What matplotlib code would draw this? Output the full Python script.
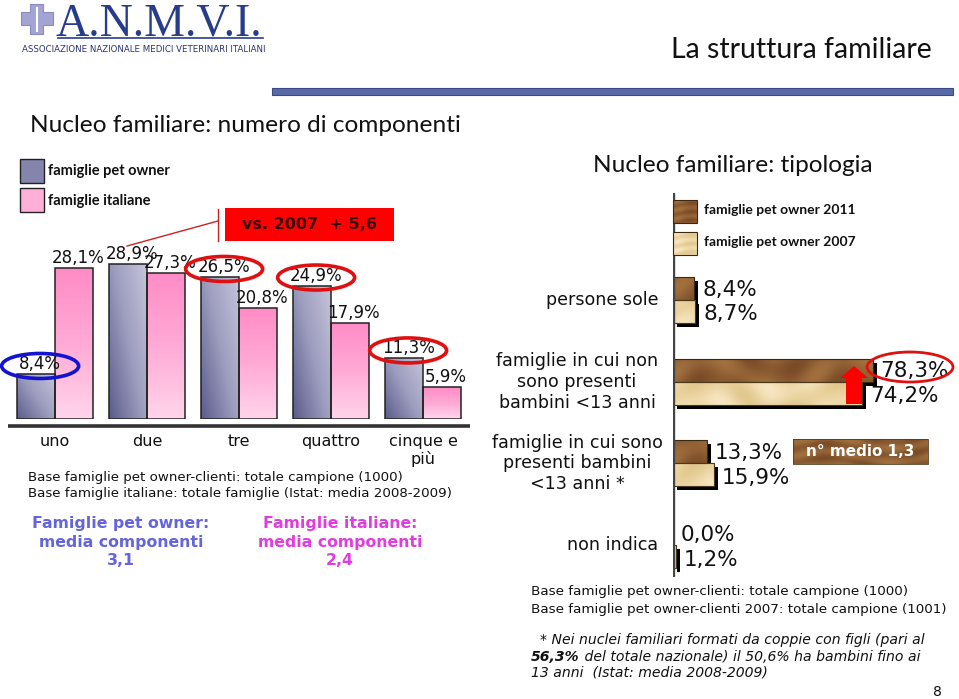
import numpy as np
import matplotlib
matplotlib.use('Agg')
import matplotlib.pyplot as plt
from matplotlib.patches import Rectangle, Ellipse, Polygon
from matplotlib.colors import LinearSegmentedColormap

W, H = 959, 699

# ---------------- data ----------------
comp_categories = ['uno', 'due', 'tre', 'quattro', 'cinque e\npiù']
pet_owner = [8.4, 28.9, 26.5, 24.9, 11.3]
italiane = [28.1, 27.3, 20.8, 17.9, 5.9]
comp_series = ['famiglie pet owner', 'famiglie italiane']

tip_categories = ['persone sole',
                  'famiglie in cui non\nsono presenti\nbambini <13 anni',
                  'famiglie in cui sono\npresenti bambini\n<13 anni *',
                  'non indica']
owner_2011 = [8.4, 78.3, 13.3, 0.0]
owner_2007 = [8.7, 74.2, 15.9, 1.2]
tip_series = ['famiglie pet owner 2011', 'famiglie pet owner 2007']


def fmt(v):
    return f"{v:.1f}".replace('.', ',') + '%'


def px_rect(x0, y0, x1, y1):
    return [x0 / W, 1 - y1 / H, (x1 - x0) / W, (y1 - y0) / H]


cm_pet = LinearSegmentedColormap.from_list('pet', ['#5c5c8c', '#9c9cbe', '#c4c4da'])
cm_ita = LinearSegmentedColormap.from_list('ita', ['#ffd4ea', '#ffaad6', '#ff8cc6'])
cm_dark = LinearSegmentedColormap.from_list('wd', ['#7a4c26', '#8e5e34', '#a2703e'])
cm_light = LinearSegmentedColormap.from_list('wl', ['#e2c88e', '#ecd6a4', '#f6e6c2'])

# wood texture (deterministic)
tx, ty = np.meshgrid(np.linspace(0, 1, 400), np.linspace(0, 1, 200))
wood = (0.5 + 0.25 * np.sin(2 * np.pi * (ty * 9 + 0.4 * np.sin(2 * np.pi * tx * 2)))
        + 0.15 * np.sin(2 * np.pi * tx * 6 + 3 * ty))
wood = (wood - wood.min()) / (wood.max() - wood.min())

fig = plt.figure(figsize=(W / 100, H / 100), dpi=100)

# ---------------- left chart ----------------
PX_X = 92.0     # pixels per category
PX_Y = 5.36     # pixels per percent
axL = fig.add_axes(px_rect(8, 419 - 35 * PX_Y, 470, 419))
axL.set_axis_off()
axL.patch.set_visible(False)
xs = np.arange(len(comp_categories))
bw = 0.41
bars_p = axL.bar(xs - bw / 2, pet_owner, bw, facecolor='none', edgecolor='#222222', lw=1.1, zorder=3)
bars_i = axL.bar(xs + bw / 2, italiane, bw, facecolor='none', edgecolor='#222222', lw=1.1, zorder=3)
gx, gy = np.meshgrid(np.linspace(0, 1, 30), np.linspace(0, 1, 60))
for r in bars_p:
    im = axL.imshow(0.55 * gx + 0.45 * gy,
                    extent=[r.get_x(), r.get_x() + r.get_width(), 0, r.get_height()],
                    origin='lower', cmap=cm_pet, aspect='auto', zorder=2, vmin=0, vmax=1)
    im.set_clip_path(r)
for r in bars_i:
    im = axL.imshow(gy, extent=[r.get_x(), r.get_x() + r.get_width(), 0, r.get_height()],
                    origin='lower', cmap=cm_ita, aspect='auto', zorder=2, vmin=0, vmax=1)
    im.set_clip_path(r)
axL.set_xlim(-0.511, 4.511)
axL.set_ylim(0, 35)
axL.plot([-0.511, 4.511], [-7 / PX_Y] * 2, color='#333333', lw=2.6, clip_on=False,
         solid_capstyle='butt')

for xi, v in zip(xs - bw / 2, pet_owner):
    axL.annotate(fmt(v), (xi, v), xytext=(4, 10), textcoords='offset pixels',
                 ha='center', va='center', fontsize=12, color='#111111', annotation_clip=False)
for xi, v in zip(xs + bw / 2, italiane):
    axL.annotate(fmt(v), (xi, v), xytext=(4, 10), textcoords='offset pixels',
                 ha='center', va='center', fontsize=12, color='#111111', annotation_clip=False)

for idx, col in [(0, '#1414d0'), (2, '#e01010'), (3, '#e01010'), (4, '#e01010')]:
    axL.add_patch(Ellipse((xs[idx] - bw / 2 + 4 / PX_X, pet_owner[idx] + 8 / PX_Y),
                          77 / PX_X, 25 / PX_Y, fill=False, ec=col, lw=2.6,
                          clip_on=False, zorder=6))

for xi, cat in zip(xs, comp_categories):
    axL.text(xi, -15 / PX_Y, cat, ha='center', va='top', fontsize=11.5,
             linespacing=1.15, color='#111111')

# ---------------- right chart ----------------
PR_X = 2.55     # pixels per percent
PR_Y = 81.7     # pixels per category
y_top, y_bot = (193 - 300) / PR_Y, (577 - 300) / PR_Y
axR = fig.add_axes(px_rect(673, 193, 959, 577))
axR.set_axis_off()
axR.patch.set_visible(False)
ys = np.arange(len(tip_categories))
bh = 23 / PR_Y
off = 11.5 / PR_Y
# shadows
axR.barh(ys - off + 4 / PR_Y, owner_2011, bh, left=4 / PR_X, color='black', zorder=1)
axR.barh(ys + off + 4 / PR_Y, owner_2007, bh, left=4 / PR_X, color='black', zorder=1)
b11 = axR.barh(ys - off, owner_2011, bh, facecolor='none', edgecolor='#3a2810', lw=0.8, zorder=3)
b07 = axR.barh(ys + off, owner_2007, bh, facecolor='none', edgecolor='#4a3818', lw=0.8, zorder=3)
ext = [0, 286 / PR_X, y_bot, y_top]
for r in b11:
    im = axR.imshow(wood, extent=ext, cmap=cm_dark, aspect='auto', zorder=2, vmin=0, vmax=1)
    im.set_clip_path(r)
for r in b07:
    im = axR.imshow(wood, extent=ext, cmap=cm_light, aspect='auto', zorder=2, vmin=0, vmax=1)
    im.set_clip_path(r)
axR.set_xlim(0, 286 / PR_X)
axR.set_ylim(y_bot, y_top)
axR.axvline(0, color='#444444', lw=2.4, zorder=4)

for yi, v in zip(ys - off, owner_2011):
    axR.annotate(fmt(v), (v, yi), xytext=(8, -1), textcoords='offset pixels',
                 ha='left', va='center', fontsize=15.5, color='#111111', annotation_clip=False)
for yi, v in zip(ys + off, owner_2007):
    axR.annotate(fmt(v), (v, yi), xytext=(8, -3), textcoords='offset pixels',
                 ha='left', va='center', fontsize=15.5, color='#111111', annotation_clip=False)

for yi, cat in zip(ys, tip_categories):
    if '\n' in cat:
        axR.text(-96 / PR_X, yi, cat, ha='center', va='center', fontsize=12.6,
                 multialignment='center', color='#111111')
    else:
        axR.text(-15 / PR_X, yi, cat, ha='right', va='center', fontsize=12.6, color='#111111')

# ---------------- overlay (page decorations) ----------------
ax0 = fig.add_axes([0, 0, 1, 1])
ax0.set_xlim(0, W)
ax0.set_ylim(H, 0)
ax0.set_axis_off()
ax0.patch.set_visible(False)

# logo
cross = Polygon([(30, 4), (43, 4), (43, 12), (53, 12), (53, 25), (43, 25), (43, 34),
                 (30, 34), (30, 25), (21, 25), (21, 12), (30, 12)],
                closed=True, fc='#a4a4d4', ec='#8c8cc0', lw=0.8)
ax0.add_patch(cross)
ax0.plot([36.5, 36.5], [8, 31], color='white', lw=1.5)
ax0.text(55, 35, 'A.N.M.V.I.', fontsize=33, family='Liberation Serif', color='#283c8c',
         ha='left', va='baseline')
ax0.plot([58, 263], [37.5, 37.5], color='#283c8c', lw=1.2)
ax0.text(22, 49, 'ASSOCIAZIONE NAZIONALE MEDICI VETERINARI ITALIANI', fontsize=6.2,
         family=['Liberation Sans Narrow', 'DejaVu Sans'], color='#2c3470', ha='left', va='center')

ax0.text(932, 50, 'La struttura familiare', fontsize=20.5, family='Lato', color='#111111',
         ha='right', va='center')
ax0.add_patch(Rectangle((272, 88), 681, 7, fc='#5a6aa8', ec='#3c4a82', lw=0.8))

ax0.text(30, 125, 'Nucleo familiare: numero di componenti', fontsize=17.6, family='Lato',
         color='#111111', ha='left', va='center')
ax0.text(733, 165, 'Nucleo familiare: tipologia', fontsize=17.6, family='Lato',
         color='#111111', ha='center', va='center')

# left legend
ax0.add_patch(Rectangle((20, 159), 24, 24, fc='#8484ac', ec='#222222', lw=1))
ax0.add_patch(Rectangle((20, 188), 24, 24, fc='#ffb0d8', ec='#222222', lw=1))
ax0.text(48, 171, comp_series[0], fontsize=10.5, family='Lato', weight='bold',
         color='#111111', va='center')
ax0.text(48, 201, comp_series[1], fontsize=10.5, family='Lato', weight='bold',
         color='#111111', va='center')

# red callout
ax0.add_patch(Rectangle((225, 208), 169, 33, fc='#ff0000', ec='none'))
ax0.text(309.5, 224.5, 'vs. 2007  + 5,6', fontsize=11.5, weight='bold', color='#3a0808',
         ha='center', va='center')
ax0.plot([218, 218], [209, 241], color='#cc2222', lw=1)
ax0.plot([218, 127], [221, 246], color='#cc2222', lw=1)

# left notes
ax0.text(28, 478, 'Base famiglie pet owner-clienti: totale campione (1000)', fontsize=9.6,
         color='#111111', va='center')
ax0.text(28, 494, 'Base famiglie italiane: totale famiglie (Istat: media 2008-2009)', fontsize=9.6,
         color='#111111', va='center')
ax0.text(121, 542, 'Famiglie pet owner:\nmedia componenti\n3,1', fontsize=11.3, weight='bold',
         color='#6464dc', ha='center', va='center', linespacing=1.3)
ax0.text(340, 542, 'Famiglie italiane:\nmedia componenti\n2,4', fontsize=11.3, weight='bold',
         color='#e03ce0', ha='center', va='center', linespacing=1.3)

# right legend
for (y0, cm), lab in zip([(200, cm_dark), (232, cm_light)], tip_series):
    sq = Rectangle((673, y0), 24, 23, fc='none', ec='#3a2810', lw=0.8, zorder=3)
    ax0.add_patch(sq)
    im = ax0.imshow(wood[:60, :60], extent=[673, 697, y0 + 23, y0], cmap=cm, aspect='auto',
                    zorder=2, vmin=0, vmax=1)
    im.set_clip_path(sq)
    ax0.text(704, y0 + 10, lab, fontsize=10, family='Lato', weight='bold', color='#111111',
             va='center')

# n medio box
box = Rectangle((793, 439), 135, 25, fc='none', ec='#5a3a1a', lw=0.6, zorder=3)
ax0.add_patch(box)
im = ax0.imshow(wood[:40, :200], extent=[793, 928, 464, 439], cmap=cm_dark, aspect='auto',
                zorder=2, vmin=0, vmax=1)
im.set_clip_path(box)
ax0.text(860.5, 451.5, 'n° medio 1,3', fontsize=11, weight='bold', color='white',
         ha='center', va='center', zorder=4)

# red arrow and ellipse
ax0.add_patch(Polygon([(846, 404), (862, 404), (862, 378), (868, 378), (854, 366),
                       (840, 378), (846, 378)], closed=True, fc='#ff0000', ec='none', zorder=5))
ax0.add_patch(Ellipse((910, 367), 86, 30, fill=False, ec='#e01010', lw=2, zorder=6))
ax0.set_xlim(0, W)
ax0.set_ylim(H, 0)

# right notes
ax0.text(531, 592, 'Base famiglie pet owner-clienti: totale campione (1000)', fontsize=9.7,
         color='#111111', va='center')
ax0.text(531, 610, 'Base famiglie pet owner-clienti 2007: totale campione (1001)', fontsize=9.7,
         color='#111111', va='center')
ax0.text(540, 640, '* Nei nuclei familiari formati da coppie con figli (pari al', fontsize=10.1,
         style='italic', color='#111111', va='center')
t56 = ax0.text(531, 657, '56,3%', fontsize=10.1, style='italic', weight='bold',
               color='#111111', va='center')
ax0.annotate(' del totale nazionale) il 50,6% ha bambini fino ai', xy=(1, 0.5), xycoords=t56,
             fontsize=10.1, style='italic', color='#111111', va='center', ha='left')
ax0.text(531, 673, '13 anni  (Istat: media 2008-2009)', fontsize=10.1, style='italic',
         color='#111111', va='center')
ax0.text(937, 692, '8', fontsize=10, color='#111111', ha='center', va='center')

fig.savefig('out.png', dpi=100)
